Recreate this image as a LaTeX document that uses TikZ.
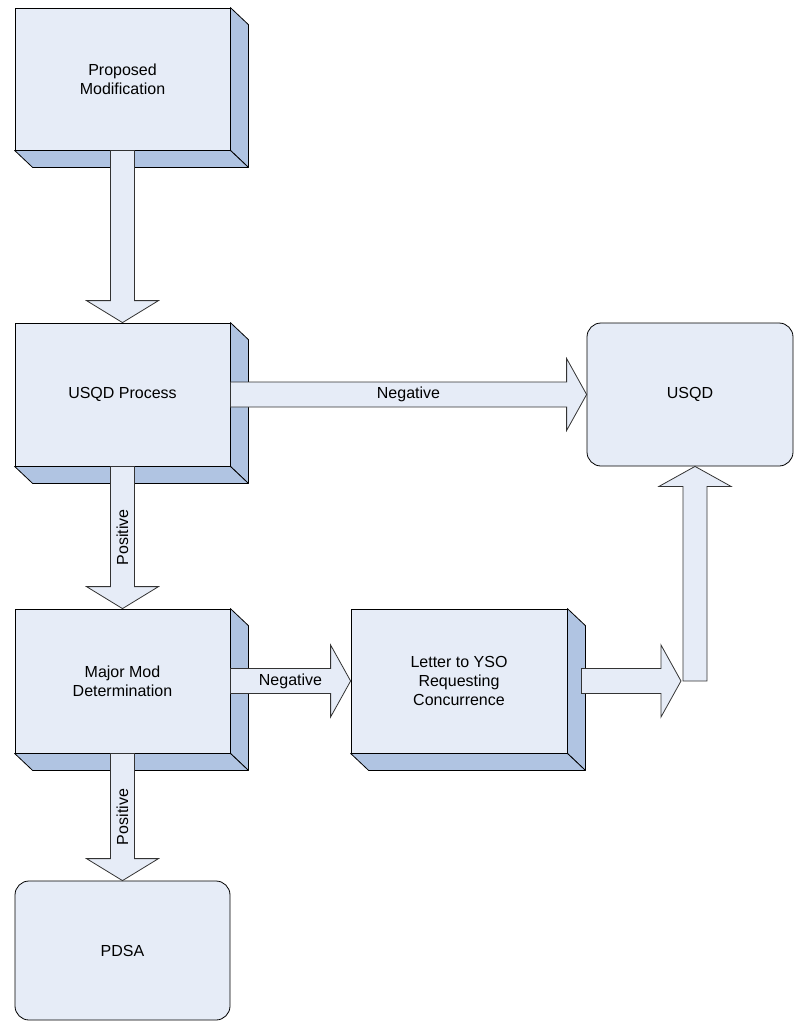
\documentclass[tikz,border=0pt]{standalone}
\usepackage{fontspec}
\setmainfont{Liberation Sans}
\usetikzlibrary{calc}

\definecolor{facecol}{RGB}{230,236,247}
\definecolor{sidecol}{RGB}{176,196,226}

\tikzset{
	stepbox/.style = {draw=black, fill=facecol, line width=0.8pt,
		minimum width=215pt, minimum height=143pt, inner sep=0pt,
		align=center, font=\fontsize{16}{19}\selectfont},
	endbox/.style = {stepbox, rounded corners=14pt},
	bevel/.style = {draw=black, fill=sidecol, line width=0.8pt, line join=round},
	blockarrow/.style = {draw=black!80, fill=facecol, line width=0.8pt},
	arrowtext/.style = {font=\fontsize{16}{19}\selectfont, inner sep=0pt}
}

% block arrows: start, tip, label
\newcommand{\blkdown}[3]{%
	\draw[blockarrow] let \p1=(#1), \p2=(#2) in
	(\x1-12pt,\y1) -- (\x1-12pt,\y2+22pt) -- (\x1-36pt,\y2+22pt) -- (\x2,\y2)
	-- (\x1+36pt,\y2+22pt) -- (\x1+12pt,\y2+22pt) -- (\x1+12pt,\y1) -- cycle;
	\node[arrowtext, rotate=90] at ($(#1)!0.5!(#2)$) {#3};}
\newcommand{\blkright}[3]{%
	\draw[blockarrow] let \p1=(#1), \p2=(#2) in
	(\x1,\y1+12.5pt) -- (\x2-20pt,\y1+12.5pt) -- (\x2-20pt,\y1+36pt) -- (\x2,\y2)
	-- (\x2-20pt,\y1-36pt) -- (\x2-20pt,\y1-12.5pt) -- (\x1,\y1-12.5pt) -- cycle;
	\node[arrowtext] at ($(#1)!0.5!(#2)$) {#3};}
\newcommand{\blkup}[2]{%
	\draw[blockarrow] let \p1=(#1), \p2=(#2) in
	(\x1-12pt,\y1) -- (\x1-12pt,\y2-20pt) -- (\x1-36pt,\y2-20pt) -- (\x2,\y2)
	-- (\x1+36pt,\y2-20pt) -- (\x1+12pt,\y2-20pt) -- (\x1+12pt,\y1) -- cycle;}

\begin{document}
\begin{tikzpicture}[x=1pt, y=-1pt]
	\useasboundingbox (0,0) rectangle (794,1022);
	
	% boxes
	\node[stepbox, minimum height=142pt] (prop) at (122.5,79) {Proposed\\Modification};
	\node[stepbox] (proc) at (122.5,394.5) {USQD Process};
	\node[endbox, minimum width=206pt] (usqd) at (690,394.5) {USQD};
	\node[stepbox, minimum height=144pt] (major) at (122.5,681) {Major Mod\\Determination};
	\node[stepbox, minimum width=216pt, minimum height=144pt] (letter) at (459,681) {Letter to YSO\\Requesting\\Concurrence};
	\node[endbox, minimum height=139pt] (pdsa) at (122.5,950.5) {PDSA};
	
	% 3d sides
	\foreach \b in {prop,proc,major,letter} {
		\filldraw[bevel] (\b.north east) -- ++(18,17) -- ($(\b.south east)+(18,17)$) -- (\b.south east) -- cycle;
		\filldraw[bevel] (\b.south west) -- ++(18,17) -- ($(\b.south east)+(18,17)$) -- (\b.south east) -- cycle;
	}
	
	% arrows
	\coordinate (turn) at (695,681);
	\blkdown{prop.south}{proc.north}{}
	\blkright{proc.east}{usqd.west}{Negative}
	\blkdown{proc.south}{major.north}{Positive}
	\blkright{major.east}{letter.west}{Negative}
	\blkdown{major.south}{pdsa.north}{Positive}
	\blkright{$(letter.east)+(14,0)$}{$(turn)+(-14,0)$}{}
	\blkup{turn}{turn |- usqd.south}
	
\end{tikzpicture}
\end{document}
